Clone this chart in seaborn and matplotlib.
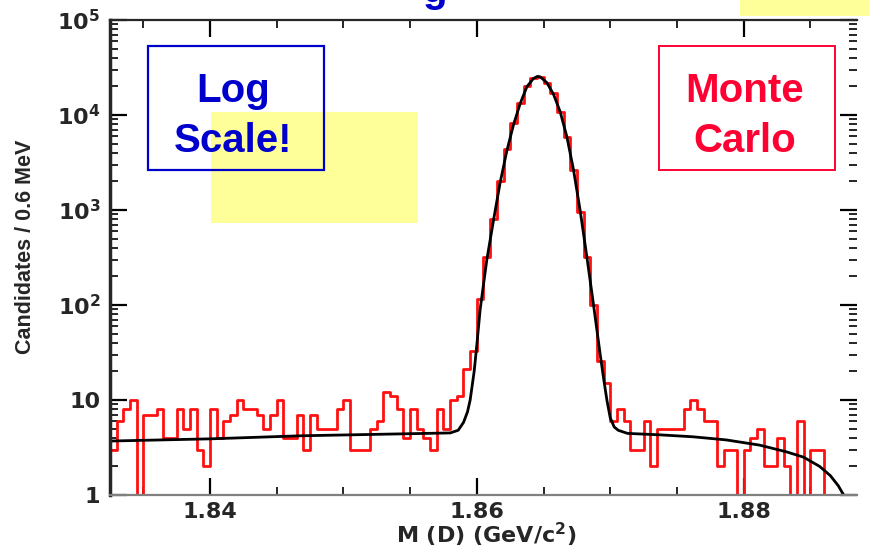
import numpy as np
import pandas as pd
import matplotlib
matplotlib.use("Agg")
import matplotlib.pyplot as plt
import seaborn as sns
from matplotlib.patches import Rectangle
from matplotlib.ticker import FixedLocator, MultipleLocator, NullFormatter

# histogram binning (GeV)
bin_start = 1.8325
bin_width = 0.0005

# candidates per bin (left to right)
counts = [3, 6, 8, 10, 0, 7, 7, 8, 4, 4,
          8, 5, 8, 3, 2, 8, 4, 6, 7, 10,
          8, 8, 7, 5, 7, 10, 4, 4, 7, 3,
          7, 5, 5, 5, 8, 10, 3, 3, 3, 5,
          6, 12, 11, 8, 4, 8, 5, 4, 3, 8,
          5, 10, 11, 21, 33, 117, 322, 800, 2040, 4350,
          8150, 13300, 20300, 24300, 25200, 21900, 16900, 10800, 5900, 2640,
          960, 322, 100, 26, 15, 6, 8, 6, 3, 3,
          6, 2, 5, 5, 5, 5, 8, 10, 8, 6,
          6, 2, 3, 3, 0, 3, 4, 5, 2, 2,
          4, 2, 0, 6, 0, 3, 3, 0, 0, 0,
          0, 0]

# fitted curve, points
fit_mass = [1.8326, 1.8400, 1.8468, 1.8543, 1.8580, 1.8586, 1.8590, 1.8593,
            1.8595, 1.8598, 1.8600, 1.86025, 1.86075, 1.86125, 1.86175, 1.86225,
            1.86275, 1.86325, 1.86375, 1.86425, 1.86455, 1.86475, 1.86525, 1.86575,
            1.86625, 1.86675, 1.86725, 1.86775, 1.86825, 1.86875, 1.86925, 1.8695,
            1.86975, 1.8700, 1.8703, 1.8706, 1.8713, 1.8737, 1.8762, 1.8787,
            1.8812, 1.8832, 1.8845, 1.8857, 1.8865, 1.8871, 1.8875, 1.8877]
fit_counts = [3.7, 3.9, 4.2, 4.4, 4.5, 4.8, 5.8, 7.5,
              10, 20, 38, 90, 300, 780, 1950, 4200,
              7900, 13200, 19800, 24300, 25500, 25200, 21900, 16500,
              10800, 5900, 2640, 980, 320, 100, 30, 17,
              10, 6.5, 5.2, 4.8, 4.45, 4.3, 4.1, 3.8,
              3.35, 2.85, 2.5, 2.0, 1.6, 1.25, 1.0, 0.8]

x_ticks = [1.84, 1.86, 1.88]
x_tick_labels = ["1.84", "1.86", "1.88"]
y_ticks = [1, 10, 100, 1000, 10000, 100000]
y_tick_labels = ["1", "10", "10$^2$", "10$^3$", "10$^4$", "10$^5$"]

sns.set_style("ticks")
plt.rcParams["font.family"] = ["DejaVu Sans"]
plt.rcParams["mathtext.fontset"] = "dejavusans"
plt.rcParams["mathtext.default"] = "bf"

W, H = 870, 549
fig = plt.figure(figsize=(W / 100, H / 100), dpi=100)
ax = fig.add_axes([110 / W, 1 - 495 / H, 747 / W, 475 / H])

# ============================
# histogram (red steps) and fit (black)
# ============================
edges = bin_start + bin_width * np.arange(len(counts) + 1)
hist_df = pd.DataFrame({"mass": edges, "count": counts + [counts[-1]]})
sns.lineplot(data=hist_df, x="mass", y="count", drawstyle="steps-post",
             color="#ff1010", linewidth=2, estimator=None, sort=False, ax=ax)

fit_df = pd.DataFrame({"mass": fit_mass, "count": fit_counts})
sns.lineplot(data=fit_df, x="mass", y="count", color="black",
             linewidth=2, estimator=None, sort=False, ax=ax)

ax.set_yscale("log")
ax.set_xlim(bin_start, bin_start + bin_width * len(counts))
ax.set_ylim(1, 1e5)

# ============================
# axes styling
# ============================
ax.xaxis.set_major_locator(FixedLocator(x_ticks))
ax.set_xticklabels(x_tick_labels)
ax.xaxis.set_minor_locator(MultipleLocator(0.005))
ax.yaxis.set_major_locator(FixedLocator(y_ticks))
ax.set_yticklabels(y_tick_labels)
ax.yaxis.set_minor_formatter(NullFormatter())

ax.tick_params(which="both", direction="in", top=True, right=True, color="black")
ax.tick_params(which="major", length=12, width=1.6)
ax.tick_params(which="minor", length=6, width=1.2)
ax.tick_params(axis="x", labelsize=16, pad=5)
ax.tick_params(axis="y", labelsize=16, pad=7)
for lbl in ax.get_xticklabels() + ax.get_yticklabels():
    lbl.set_fontweight("bold")

ax.spines["left"].set_linewidth(2.5)
ax.spines["top"].set_linewidth(1.6)
ax.spines["bottom"].set_color("#808080")
ax.spines["bottom"].set_linewidth(1.6)
ax.spines["bottom"].set_linestyle((0, (1, 1)))
ax.spines["right"].set_visible(False)

ax.set_xlabel("M (D) (GeV/c$^2$)", fontsize=16, fontweight="bold", va="baseline")
ax.xaxis.set_label_coords((486 - 110) / 747, (495 - 543.5) / 475)
ax.set_ylabel("Candidates / 0.6 MeV", fontsize=15.5,
              family=["Liberation Sans Narrow", "Liberation Sans"],
              fontweight="bold", va="center")
ax.yaxis.set_label_coords((25 - 110) / 747, (495 - 247) / 475)

# ============================
# slide overlays
# ============================
def fx(px):
    return px / W


def fy(py):
    return 1 - py / H


fig.add_artist(Rectangle((fx(211), fy(223)), fx(207), 111 / H, transform=fig.transFigure,
                         facecolor="#ffff99", edgecolor="none", zorder=3))
fig.add_artist(Rectangle((fx(740), fy(16)), fx(130), 16 / H, transform=fig.transFigure,
                         facecolor="#ffff99", edgecolor="none", zorder=3))

fig.add_artist(Rectangle((fx(148), fy(170)), fx(176), 124 / H, transform=fig.transFigure,
                         facecolor="none", edgecolor="#0000cc", linewidth=1.6, zorder=4))
fig.add_artist(Rectangle((fx(659), fy(170)), fx(176), 124 / H, transform=fig.transFigure,
                         facecolor="none", edgecolor="#ff0033", linewidth=1.4, zorder=4))

box_font = dict(family="Liberation Sans", fontsize=29, fontweight="bold",
                ha="center", va="baseline", zorder=5)
fig.text(fx(233), fy(101.7), "Log", color="#0000cc", **box_font)
fig.text(fx(233), fy(151.7), "Scale!", color="#0000cc", **box_font)
fig.text(fx(745), fy(101.7), "Monte", color="#ff0033", **box_font)
fig.text(fx(745), fy(151.7), "Carlo", color="#ff0033", **box_font)
# cut-off slide title above the plot
fig.text(fx(435), fy(2), "g", color="#0000cc", **box_font)

fig.savefig("out.png", dpi=100)
